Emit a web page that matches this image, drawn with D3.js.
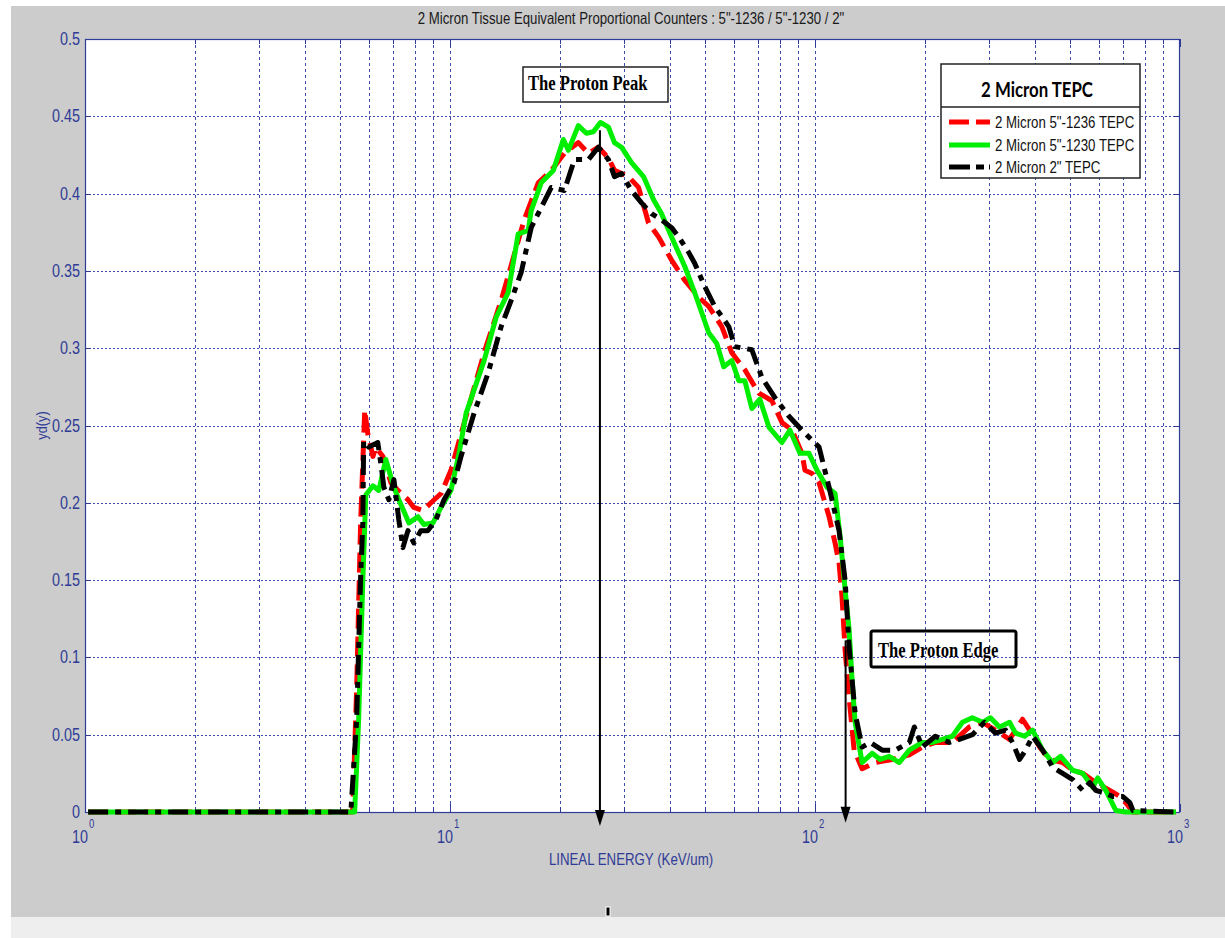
<!DOCTYPE html>
<html>
<head>
<meta charset="utf-8">
<script src="https://cdn.jsdelivr.net/npm/d3@7"></script>
<style>
  body { margin: 0; background: #fff; }
  svg { display: block; }
</style>
</head>
<body>
<svg id="chart" width="1225" height="938"></svg>
<script>
// ---- Data: lineal energy (keV/um) and yd(y) for each detector ----
const energy1236 = [1.02, 5.41, 5.55, 5.69, 5.84, 5.95, 6.15, 6.26, 6.55, 6.89, 7.20, 7.67, 7.96, 8.43, 8.87, 9.45, 10.06, 10.59,
  12.40, 13.81, 15.97, 17.45, 18.95, 20.57, 22.47, 23.94, 25.50, 27.17, 28.22, 30.83, 32.85, 34.99, 37.27, 40.46, 43.95,
  48.01, 51.15, 55.54, 59.16, 64.24, 68.43, 70.19, 76.19, 81.17, 86.47, 92.12, 93.88, 98.13, 102.6, 109.3, 113.5, 116.4,
  118.6, 120.9, 124.0, 128.0, 134.6, 146.1, 162.8, 181.3, 196.8, 213.6, 237.9, 264.9, 287.6, 312.2, 341.2, 370.4, 387.2,
  412.5, 439.5, 477.2, 508.2, 541.4, 587.9, 642.1, 684.2, 710.6, 742.7, 975];
const yd1236 = [0, 0, 0.08, 0.187, 0.26, 0.245, 0.23, 0.236, 0.23, 0.213, 0.208, 0.202, 0.197, 0.195, 0.2, 0.206, 0.221, 0.24,
  0.297, 0.331, 0.383, 0.407, 0.415, 0.426, 0.433, 0.426, 0.43, 0.423, 0.415, 0.411, 0.404, 0.381, 0.372, 0.357, 0.344,
  0.333, 0.327, 0.314, 0.297, 0.286, 0.275, 0.271, 0.266, 0.252, 0.247, 0.232, 0.221, 0.219, 0.213, 0.191, 0.174, 0.161,
  0.139, 0.105, 0.074, 0.04, 0.028, 0.032, 0.034, 0.037, 0.042, 0.045, 0.045, 0.055, 0.058, 0.053, 0.047, 0.06, 0.053,
  0.042, 0.034, 0.032, 0.027, 0.025, 0.019, 0.014, 0.01, 0.006, 0, 0];

const energy1230 = [1.02, 5.48, 5.62, 5.77, 5.88, 6.15, 6.38, 6.67, 7.02, 7.24, 7.72, 8.17, 8.48, 8.98, 9.45, 10.06, 10.59, 11.07,
  12.40, 13.38, 14.43, 15.38, 16.38, 16.69, 17.78, 19.19, 20.44, 21.10, 22.47, 23.64, 24.71, 25.83, 27.17, 28.22, 29.50,
  31.43, 33.90, 36.12, 37.99, 40.46, 43.95, 46.81, 51.15, 53.81, 56.23, 59.16, 61.84, 64.24, 67.14, 70.63, 74.76, 81.17,
  85.38, 90.96, 96.27, 101.3, 107.9, 113.5, 117.2, 120.9, 124.0, 126.4, 128.8, 134.6, 143.4, 150.9, 159.7, 170.2, 181.3,
  196.8, 209.6, 223.3, 237.9, 253.4, 270.0, 287.6, 302.5, 320.2, 341.2, 354.4, 375.2, 394.6, 420.4, 447.9, 471.2, 508.2,
  541.4, 576.8, 595.3, 626.1, 667.0, 710.6, 975];
const yd1230 = [0, 0, 0.06, 0.15, 0.205, 0.211, 0.208, 0.228, 0.21, 0.202, 0.187, 0.191, 0.186, 0.187, 0.197, 0.208, 0.232, 0.258,
  0.292, 0.32, 0.336, 0.374, 0.376, 0.389, 0.407, 0.415, 0.435, 0.428, 0.444, 0.439, 0.44, 0.446, 0.443, 0.433, 0.43,
  0.42, 0.411, 0.396, 0.387, 0.372, 0.353, 0.336, 0.31, 0.303, 0.288, 0.292, 0.279, 0.279, 0.261, 0.267, 0.249, 0.239,
  0.247, 0.232, 0.232, 0.221, 0.21, 0.206, 0.178, 0.144, 0.118, 0.085, 0.058, 0.032, 0.038, 0.034, 0.036, 0.032, 0.04,
  0.045, 0.045, 0.047, 0.049, 0.058, 0.061, 0.058, 0.061, 0.055, 0.058, 0.051, 0.049, 0.053, 0.04, 0.032, 0.036, 0.027,
  0.025, 0.016, 0.022, 0.014, 0.001, 0, 0];

const energy2in = [1.02, 5.35, 5.55, 5.69, 5.77, 5.80, 5.99, 6.34, 6.46, 6.59, 6.80, 7.02, 7.24, 7.43, 7.67, 7.96, 8.32, 8.70,
  9.15, 9.63, 10.26, 10.72, 11.64, 12.72, 13.81, 14.71, 15.67, 16.69, 17.78, 18.95, 20.57, 21.92, 23.94, 25.50, 27.17,
  28.22, 29.50, 31.43, 33.48, 35.66, 37.99, 40.46, 42.30, 45.07, 46.81, 49.87, 53.13, 58.04, 60.30, 67.14, 71.53, 77.65,
  84.84, 92.12, 102.6, 109.3, 116.4, 120.9, 124.0, 128.8, 134.6, 141.6, 152.8, 165.9, 181.3, 187.1, 196.8, 213.6, 233.4,
  248.7, 270.0, 291.3, 312.2, 332.7, 347.7, 363.4, 377.5, 394.6, 420.4, 447.9, 477.2, 508.2, 541.4, 565.9, 587.9, 626.1,
  654.5, 697.3, 728.8, 742.7, 975];
const yd2in = [0, 0, 0.06, 0.152, 0.187, 0.24, 0.236, 0.239, 0.226, 0.21, 0.202, 0.215, 0.189, 0.171, 0.182, 0.174, 0.182, 0.182,
  0.189, 0.202, 0.213, 0.23, 0.258, 0.284, 0.314, 0.331, 0.349, 0.378, 0.391, 0.404, 0.402, 0.422, 0.422, 0.43, 0.422,
  0.411, 0.413, 0.402, 0.394, 0.387, 0.383, 0.378, 0.372, 0.362, 0.355, 0.34, 0.327, 0.314, 0.301, 0.299, 0.281, 0.268,
  0.256, 0.247, 0.236, 0.21, 0.182, 0.15, 0.107, 0.064, 0.042, 0.045, 0.04, 0.04, 0.045, 0.055, 0.042, 0.049, 0.045,
  0.047, 0.05, 0.058, 0.051, 0.053, 0.045, 0.034, 0.04, 0.049, 0.04, 0.029, 0.025, 0.021, 0.014, 0.019, 0.014, 0.012,
  0.01, 0.01, 0.006, 0.001, 0];

const seriesNames = ['2 Micron 5"-1236 TEPC', '2 Micron 5"-1230 TEPC', '2 Micron 2" TEPC'];
const yTicks = [0, 0.05, 0.1, 0.15, 0.2, 0.25, 0.3, 0.35, 0.4, 0.45, 0.5];
const yTickLabels = ["0", "0.05", "0.1", "0.15", "0.2", "0.25", "0.3", "0.35", "0.4", "0.45", "0.5"];
const xDecades = [1, 10, 100, 1000];
const xExponents = ["0", "1", "2", "3"];
const xMinor = [2, 3, 4, 5, 6, 7, 8, 9, 20, 30, 40, 50, 60, 70, 80, 90, 200, 300, 400, 500, 600, 700, 800, 900];

// annotation arrows: energy, top and bottom of the shaft (in yd units)
const peakArrow = { e: 25.75, top: 0.441, bottom: -0.009 };
const edgeArrow = { e: 121.3, top: 0.111, bottom: -0.007 };

// ---- Layout ----
const svg = d3.select("#chart");
const axisBlue = "#2f3b96";
const gridBlue = "#4050aa";
const SQ = 0.8; // horizontal squeeze of the figure text
const plot = { left: 85, right: 1180, top: 39, bottom: 812 };

const x = d3.scaleLog().domain([1, 1000]).range([plot.left, plot.right]);
const y = d3.scaleLinear().domain([0, 0.5]).range([plot.bottom, plot.top]);

function label(g, px, py, str, o = {}) {
  return g.append("text")
    .attr("transform", `translate(${px},${py}) scale(${o.sq ?? SQ},1)`)
    .attr("text-anchor", o.anchor || "start")
    .attr("font-family", o.family || "'Liberation Sans', Arial, sans-serif")
    .attr("font-size", o.size || 17)
    .attr("font-weight", o.weight || "normal")
    .attr("fill", o.fill || "#000")
    .text(str);
}

// figure background
svg.append("rect").attr("x", 11).attr("y", 6).attr("width", 1214).attr("height", 911).attr("fill", "#cccccc");
svg.append("rect").attr("x", 11).attr("y", 917).attr("width", 1214).attr("height", 21).attr("fill", "#eeeeee");

// plot area
svg.append("rect").attr("x", plot.left).attr("y", plot.top)
  .attr("width", plot.right - plot.left).attr("height", plot.bottom - plot.top).attr("fill", "#fff");

const grid = svg.append("g");
// horizontal grid
grid.selectAll("line.h").data(yTicks.slice(1, -1)).join("line")
  .attr("x1", plot.left).attr("x2", plot.right)
  .attr("y1", d => Math.round(y(d)) + 0.5).attr("y2", d => Math.round(y(d)) + 0.5)
  .attr("stroke", gridBlue).attr("stroke-width", 1).attr("stroke-dasharray", "2,2");
// vertical grid, decades and minor positions alike
grid.selectAll("line.v").data(xMinor.concat(xDecades.slice(1, -1))).join("line")
  .attr("x1", d => Math.round(x(d)) + 0.5).attr("x2", d => Math.round(x(d)) + 0.5)
  .attr("y1", plot.top).attr("y2", plot.bottom)
  .attr("stroke", gridBlue).attr("stroke-width", 1).attr("stroke-dasharray", "3,3");

// tick marks (inward)
const ticks = svg.append("g").attr("stroke", axisBlue).attr("stroke-width", 1);
yTicks.forEach(v => {
  const py = Math.round(y(v)) + 0.5;
  ticks.append("line").attr("x1", plot.left).attr("x2", plot.left + 6).attr("y1", py).attr("y2", py);
  ticks.append("line").attr("x1", plot.right - 6).attr("x2", plot.right).attr("y1", py).attr("y2", py);
});
xDecades.concat(xMinor).forEach(v => {
  const len = xDecades.includes(v) ? 8 : 5;
  const px = Math.round(x(v)) + 0.5;
  ticks.append("line").attr("x1", px).attr("x2", px).attr("y1", plot.bottom).attr("y2", plot.bottom - len);
  ticks.append("line").attr("x1", px).attr("x2", px).attr("y1", plot.top).attr("y2", plot.top + len);
});

// frame
svg.append("rect").attr("x", plot.left + 0.5).attr("y", plot.top + 0.5)
  .attr("width", plot.right - plot.left - 1).attr("height", plot.bottom - plot.top)
  .attr("fill", "none").attr("stroke", axisBlue).attr("stroke-width", 1.2);

// tick labels
const tl = svg.append("g");
yTicks.forEach((v, i) => {
  label(tl, 80, y(v) + 6, yTickLabels[i], { anchor: "end", size: 18, fill: axisBlue });
});
xDecades.forEach((v, i) => {
  label(tl, x(v) + 3, 843, "10", { anchor: "end", size: 18, fill: axisBlue });
  label(tl, x(v) + 4, 828, xExponents[i], { size: 12, fill: axisBlue });
});

// axis titles and figure title
label(svg, 631, 865, "LINEAL ENERGY (KeV/um)", { anchor: "middle", size: 17, fill: axisBlue, sq: 0.78 });
svg.append("text")
  .attr("transform", `translate(47,${(plot.top + plot.bottom) / 2}) rotate(-90) scale(0.85,1)`)
  .attr("text-anchor", "middle").attr("font-family", "'Liberation Sans', Arial, sans-serif")
  .attr("font-size", 15).attr("fill", axisBlue).text("yd(y)");
label(svg, 631, 24, "2 Micron Tissue Equivalent Proportional Counters : 5\"-1236 / 5\"-1230 / 2\"",
  { anchor: "middle", size: 16.5, fill: "#1a1a1a", sq: 0.8 });

// ---- Curves ----
const series = [
  { e: energy1236, v: yd1236, color: "#ff0000", dash: "20,8" },
  { e: energy1230, v: yd1230, color: "#00ee00", dash: null },
  { e: energy2in, v: yd2in, color: "#000000", dash: "20,7,6,7" }
];
const line = d3.line().x(d => x(d[0])).y(d => y(d[1]));
const curves = svg.append("g");
series.forEach(s => {
  const pts = s.e.map((e, i) => [e, s.v[i]]);
  curves.append("path").datum(pts).attr("d", line)
    .attr("fill", "none").attr("stroke", s.color).attr("stroke-width", 5)
    .attr("stroke-linejoin", "round").attr("stroke-linecap", "butt")
    .attr("stroke-dasharray", s.dash);
});

// ---- Annotations ----
const ann = svg.append("g");
function arrow(a) {
  const px = x(a.e), y0 = y(a.top), y1 = y(a.bottom);
  ann.append("line").attr("x1", px).attr("x2", px).attr("y1", y0).attr("y2", y1 - 12)
    .attr("stroke", "#000").attr("stroke-width", 2);
  ann.append("path").attr("d", `M${px - 5},${y1 - 16} L${px + 5},${y1 - 16} L${px},${y1} Z`).attr("fill", "#000");
}
arrow(peakArrow);
arrow(edgeArrow);

ann.append("rect").attr("x", 523).attr("y", 67).attr("width", 145).attr("height", 35)
  .attr("fill", "none").attr("stroke", "#222").attr("stroke-width", 1.5);
label(ann, 528, 90, "The Proton Peak", { size: 20, weight: "bold", family: "'Liberation Serif', 'Times New Roman', serif", sq: 0.83 });

ann.append("rect").attr("x", 871).attr("y", 631).attr("width", 145).attr("height", 36).attr("rx", 2)
  .attr("fill", "none").attr("stroke", "#000").attr("stroke-width", 3);
label(ann, 878, 657, "The Proton Edge", { size: 20, weight: "bold", family: "'Liberation Serif', 'Times New Roman', serif", sq: 0.83 });

// ---- Legend ----
const lg = svg.append("g");
lg.append("rect").attr("x", 941).attr("y", 64).attr("width", 199).attr("height", 114)
  .attr("fill", "#fff").attr("stroke", "#222").attr("stroke-width", 1.5);
lg.append("line").attr("x1", 941).attr("x2", 1140).attr("y1", 107).attr("y2", 107)
  .attr("stroke", "#222").attr("stroke-width", 1.5);
label(lg, 1037, 97, "2 Micron TEPC", { anchor: "middle", size: 21, weight: "bold", family: "Lato, 'Open Sans', sans-serif", sq: 0.8 });
const rowY = [122, 145, 167];
const legendDash = ["20,7", null, "21,6,8,5"];
series.forEach((s, i) => {
  lg.append("line").attr("x1", 949).attr("x2", 990).attr("y1", rowY[i]).attr("y2", rowY[i])
    .attr("stroke", s.color).attr("stroke-width", 5).attr("stroke-dasharray", legendDash[i]);
  label(lg, 995, rowY[i] + 6, seriesNames[i], { size: 17, sq: 0.78, fill: "#111" });
});

// small marker below the axes
svg.append("rect").attr("x", 606).attr("y", 907).attr("width", 4).attr("height", 9)
  .attr("fill", "#000").attr("stroke", "#fff").attr("stroke-width", 1);
</script>
</body>
</html>
